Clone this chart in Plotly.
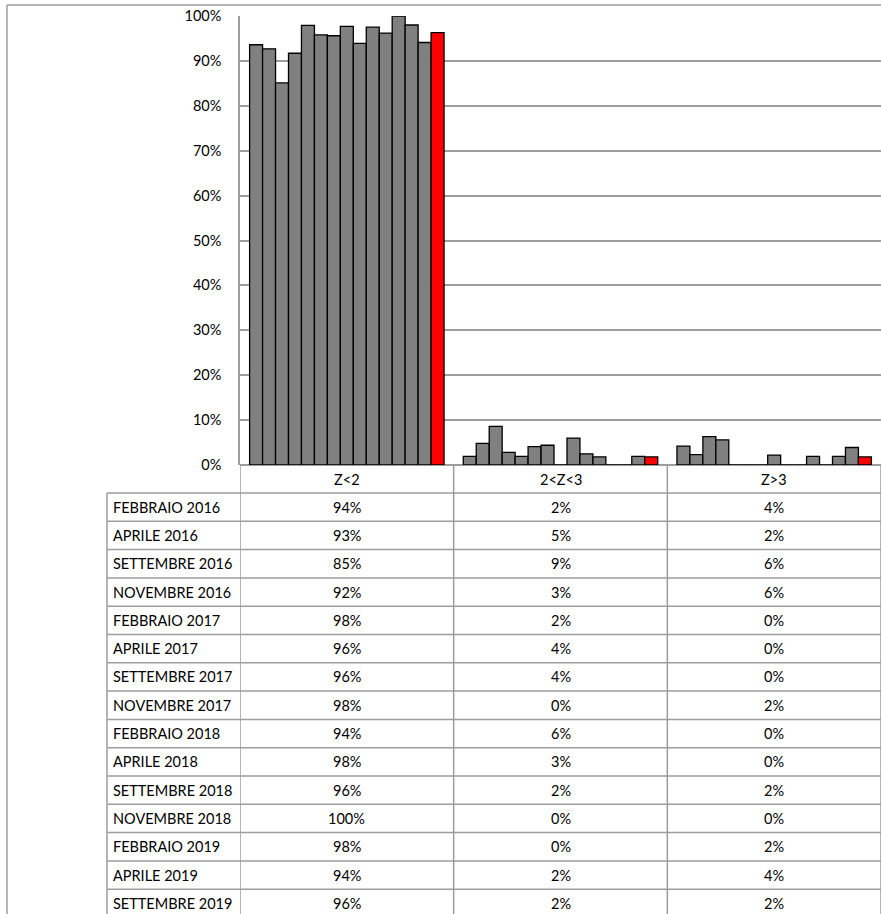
import math
import plotly.graph_objects as go

# Categories of the Z-score distribution
categories = ["Z<2", "2<Z<3", "Z>3"]

# Survey rounds (one series each)
rounds = [
    "FEBBRAIO 2016", "APRILE 2016", "SETTEMBRE 2016", "NOVEMBRE 2016",
    "FEBBRAIO 2017", "APRILE 2017", "SETTEMBRE 2017", "NOVEMBRE 2017",
    "FEBBRAIO 2018", "APRILE 2018", "SETTEMBRE 2018", "NOVEMBRE 2018",
    "FEBBRAIO 2019", "APRILE 2019", "SETTEMBRE 2019",
]

# Share of results per category (%)
z_lt2 = [93.6, 92.7, 85.1, 91.7, 97.9, 95.8, 95.6, 97.7, 93.9, 97.5, 96.2, 100.0, 98.0, 94.1, 96.3]
z_2_3 = [1.9, 4.8, 8.6, 2.8, 1.9, 4.1, 4.4, 0.0, 6.0, 2.5, 1.8, 0.0, 0.0, 1.9, 1.8]
z_gt3 = [4.2, 2.3, 6.3, 5.6, 0.0, 0.0, 0.0, 2.2, 0.0, 0.0, 1.9, 0.0, 1.9, 3.9, 1.8]

y_ticks = list(range(0, 101, 10))

W, H = 881, 914
FONT = "Lato"
FS = 14.5
GRID = "#9d9d9d"
GRAY_BAR = "#808080"
LAST_BAR = "#ff0000"


def px(x):
    return x / W


def py(y):
    return 1 - y / H


def pct(v):
    # Excel-style rounding (half away from zero)
    return f"{math.floor(v + 0.5)}%"


def esc(s):
    return s.replace("<", "&lt;").replace(">", "&gt;")


series = list(zip(z_lt2, z_2_3, z_gt3))

fig = go.Figure()
for i, (name, vals) in enumerate(zip(rounds, series)):
    fig.add_trace(go.Bar(
        name=name,
        x=[0, 1, 2],
        y=list(vals),
        marker=dict(
            color=LAST_BAR if i == len(rounds) - 1 else GRAY_BAR,
            line=dict(color="#000000", width=1.3),
        ),
        hovertemplate="%{y:.1f}%<extra>" + name + "</extra>",
    ))

# Plot area geometry (pixels)
PLOT_L, PLOT_T, PLOT_B = 240, 16, 465
LABEL_L = 107
HEADER_B = 493
ROW_H = 28.3

shapes = []
line = dict(color=GRID, width=1.5)

# outer frame of the chart
shapes.append(dict(type="line", xref="paper", yref="paper",
                   x0=px(7), x1=px(7), y0=py(5), y1=0, line=line))
shapes.append(dict(type="line", xref="paper", yref="paper",
                   x0=px(7), x1=1, y0=py(5), y1=py(5), line=line))

# column separators of the data table
for b in [-0.5, 0.5, 1.5, 2.5]:
    shapes.append(dict(type="line", xref="x", yref="paper",
                       x0=b, x1=b, y0=py(PLOT_B), y1=0, line=line))
# left edge of the row-label column
shapes.append(dict(type="line", xref="paper", yref="paper",
                   x0=px(LABEL_L), x1=px(LABEL_L), y0=py(HEADER_B), y1=0, line=line))
# row separators
for k in range(len(rounds)):
    yy = HEADER_B + ROW_H * k
    shapes.append(dict(type="line", xref="paper", yref="paper",
                       x0=px(LABEL_L), x1=1, y0=py(yy), y1=py(yy), line=line))

annotations = []
txt_font = dict(family=FONT, size=FS, color="#000000")
# header row with category names
for j, c in enumerate(categories):
    annotations.append(dict(xref="x", yref="paper", x=j, y=py((PLOT_B + HEADER_B) / 2),
                            text=esc(c), showarrow=False, font=txt_font,
                            xanchor="center", yanchor="middle"))
# data rows
cols = [z_lt2, z_2_3, z_gt3]
for k, name in enumerate(rounds):
    yc = py(HEADER_B + ROW_H * k + ROW_H / 2)
    annotations.append(dict(xref="paper", yref="paper", x=px(LABEL_L + 4), y=yc,
                            text=name, showarrow=False, font=txt_font,
                            xanchor="left", yanchor="middle"))
    for j, col in enumerate(cols):
        annotations.append(dict(xref="x", yref="paper", x=j, y=yc,
                                text=pct(col[k]), showarrow=False, font=txt_font,
                                xanchor="center", yanchor="middle"))

fig.update_layout(
    template="none",
    width=W, height=H,
    margin=dict(l=0, r=0, t=0, b=0, pad=0, autoexpand=False),
    paper_bgcolor="#ffffff",
    plot_bgcolor="#ffffff",
    barmode="group",
    bargap=0.09,
    bargroupgap=0,
    showlegend=False,
    font=dict(family=FONT, size=FS, color="#000000"),
    xaxis=dict(
        domain=[px(PLOT_L), 1],
        range=[-0.5, 2.5],
        showticklabels=False,
        showgrid=False,
        zeroline=False,
        showline=False,
        automargin=False,
        fixedrange=True,
    ),
    yaxis=dict(
        domain=[py(PLOT_B), py(PLOT_T)],
        range=[0, 100],
        tickvals=y_ticks,
        ticktext=[f"{t}%" for t in y_ticks],
        showgrid=True,
        gridcolor=GRID,
        gridwidth=1.5,
        zeroline=True,
        zerolinecolor=GRID,
        zerolinewidth=1.5,
        showline=True,
        linecolor=GRID,
        linewidth=1.5,
        ticks="",
        ticklabelstandoff=14,
        automargin=False,
        tickfont=dict(family=FONT, size=FS, color="#000000"),
        fixedrange=True,
    ),
    shapes=shapes,
    annotations=annotations,
)

fig.write_html("out.html")
